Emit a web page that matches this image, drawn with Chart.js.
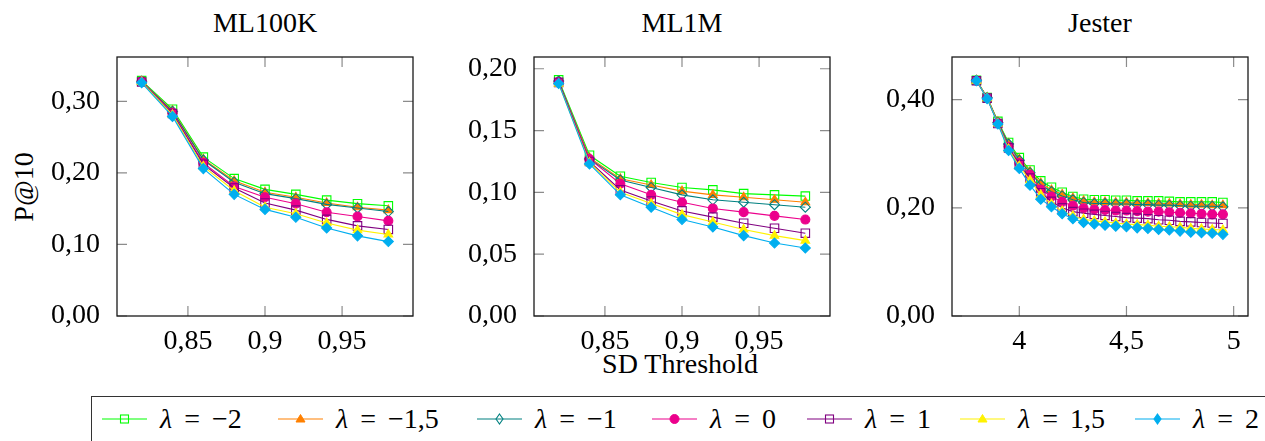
<!DOCTYPE html>
<html>
<head>
<meta charset="utf-8">
<script src="https://cdn.jsdelivr.net/npm/chart.js"></script>
<style>
  body {
    margin: 0;
    width: 1265px;
    height: 441px;
    overflow: hidden;
    position: relative;
    background: #ffffff;
    font-family: 'Liberation Serif', 'Times New Roman', 'DejaVu Serif', serif;
    color: #000;
  }
  canvas { position: absolute; top: 0; }
  .txt {
    position: absolute;
    font-size: 28px;
    line-height: 32px;
    white-space: nowrap;
    text-align: center;
  }
  .legend {
    position: absolute;
    left: 91px;
    top: 396px;
    width: 1250px;
    height: 80px;
    border: 1.3px solid #333;
  }
  .entry-line { position: absolute; top: 409px; }
  .entry-text { position: absolute; top: 403px; font-size: 28px; line-height: 32px; white-space: nowrap; }
  .eq { margin: 0 12px; }
</style>
</head>
<body>

<!-- titles and axis labels -->
<div class="txt" style="left:165px; top:7px; width:200px;">ML100K</div>
<div class="txt" style="left:582px; top:7px; width:200px;">ML1M</div>
<div class="txt" style="left:1000px; top:7px; width:200px;">Jester</div>
<div class="txt" style="left:-36px; top:171px; width:120px; transform:rotate(-90deg);">P@10</div>
<div class="txt" style="left:530px; top:348px; width:300px;">SD Threshold</div>

<canvas id="c1" width="384" height="380" style="left:37px"></canvas>
<canvas id="c2" width="384" height="380" style="left:454px"></canvas>
<canvas id="c3" width="384" height="380" style="left:872px"></canvas>

<div class="legend"></div>
<div id="legendItems"></div>

<script>
// ---- data ----
const lambdas = ['−2', '−1,5', '−1', '0', '1', '1,5', '2'];
const colors = ['#00ff00', '#ff8000', '#008080', '#ec008c', '#800080', '#fff200', '#00aeef'];
const markers = ['rect', 'triangle', 'rectRot', 'circle', 'rect', 'triangle', 'rectRot'];
const filled = [false, true, false, true, false, true, true];

const mlThresholds = [0.82, 0.84, 0.86, 0.88, 0.90, 0.92, 0.94, 0.96, 0.98];
const jesterThresholds = [3.8, 3.85, 3.9, 3.95, 4.0, 4.05, 4.1, 4.15, 4.2, 4.25, 4.3, 4.35,
  4.4, 4.45, 4.5, 4.55, 4.6, 4.65, 4.7, 4.75, 4.8, 4.85, 4.9, 4.95];

// ML100K
const ml100kM2  = [0.329, 0.289, 0.222, 0.192, 0.177, 0.170, 0.162, 0.157, 0.154];
const ml100kM15 = [0.328, 0.287, 0.219, 0.189, 0.173, 0.166, 0.158, 0.152, 0.148];
const ml100kM1  = [0.328, 0.286, 0.218, 0.187, 0.171, 0.164, 0.156, 0.151, 0.146];
const ml100k0   = [0.328, 0.284, 0.214, 0.181, 0.166, 0.157, 0.145, 0.139, 0.133];
const ml100k1   = [0.327, 0.283, 0.212, 0.179, 0.158, 0.148, 0.135, 0.126, 0.121];
const ml100k15  = [0.327, 0.281, 0.209, 0.175, 0.152, 0.143, 0.130, 0.120, 0.114];
const ml100k2   = [0.326, 0.279, 0.206, 0.170, 0.149, 0.138, 0.123, 0.112, 0.104];

// ML1M
const ml1mM2  = [0.191, 0.130, 0.113, 0.108, 0.104, 0.102, 0.099, 0.098, 0.097];
const ml1mM15 = [0.190, 0.128, 0.111, 0.106, 0.101, 0.098, 0.096, 0.094, 0.092];
const ml1mM1  = [0.190, 0.127, 0.110, 0.104, 0.098, 0.094, 0.092, 0.090, 0.088];
const ml1m0   = [0.189, 0.127, 0.107, 0.098, 0.092, 0.087, 0.084, 0.081, 0.078];
const ml1m1   = [0.189, 0.125, 0.102, 0.093, 0.085, 0.080, 0.075, 0.071, 0.067];
const ml1m15  = [0.188, 0.124, 0.100, 0.091, 0.082, 0.076, 0.070, 0.065, 0.061];
const ml1m2   = [0.188, 0.123, 0.098, 0.088, 0.078, 0.072, 0.065, 0.059, 0.055];

// Jester
const jesterM2  = [0.436, 0.404, 0.360, 0.321, 0.293, 0.270, 0.250, 0.238, 0.229, 0.221, 0.216, 0.215,
  0.215, 0.214, 0.214, 0.213, 0.213, 0.213, 0.212, 0.211, 0.211, 0.211, 0.211, 0.210];
const jesterM15 = [0.436, 0.404, 0.359, 0.319, 0.290, 0.267, 0.246, 0.233, 0.225, 0.218, 0.213, 0.211,
  0.211, 0.210, 0.210, 0.209, 0.209, 0.208, 0.208, 0.207, 0.206, 0.206, 0.205, 0.205];
const jesterM1  = [0.436, 0.404, 0.358, 0.318, 0.288, 0.265, 0.243, 0.230, 0.222, 0.215, 0.210, 0.208,
  0.208, 0.207, 0.207, 0.206, 0.206, 0.205, 0.205, 0.204, 0.203, 0.203, 0.203, 0.202];
const jester0   = [0.435, 0.403, 0.357, 0.313, 0.283, 0.261, 0.234, 0.221, 0.211, 0.204, 0.199, 0.197,
  0.196, 0.195, 0.195, 0.194, 0.193, 0.193, 0.192, 0.191, 0.190, 0.189, 0.188, 0.188];
const jester1   = [0.435, 0.403, 0.356, 0.311, 0.280, 0.255, 0.228, 0.212, 0.200, 0.193, 0.190, 0.188,
  0.186, 0.184, 0.182, 0.181, 0.180, 0.178, 0.177, 0.175, 0.174, 0.173, 0.172, 0.171];
const jester15  = [0.435, 0.403, 0.356, 0.309, 0.277, 0.251, 0.224, 0.207, 0.194, 0.185, 0.179, 0.176,
  0.174, 0.172, 0.170, 0.169, 0.168, 0.166, 0.165, 0.164, 0.162, 0.161, 0.160, 0.159];
const jester2   = [0.435, 0.402, 0.355, 0.306, 0.273, 0.242, 0.216, 0.202, 0.189, 0.180, 0.173, 0.170,
  0.168, 0.166, 0.165, 0.163, 0.162, 0.160, 0.159, 0.157, 0.155, 0.154, 0.153, 0.151];

// ticks
const mlXTicks = [0.85, 0.9, 0.95];
const jesterXTicks = [4, 4.5, 5];
const ml100kYTicks = [0, 0.1, 0.2, 0.3];
const ml1mYTicks = [0, 0.05, 0.1, 0.15, 0.2];
const jesterYTicks = [0, 0.2, 0.4];

const comma = v => String(v).replace('.', ',');
const comma2 = v => v.toFixed(2).replace('.', ',');

// frame + inward ticks on all four sides (pgfplots look)
const framePlugin = {
  id: 'frame',
  afterDraw(chart) {
    const { ctx, chartArea: a, scales } = chart;
    ctx.save();
    ctx.strokeStyle = '#8c8c8c';
    ctx.lineWidth = 1.2;
    ctx.beginPath();
    scales.x.ticks.forEach(t => {
      const px = scales.x.getPixelForValue(t.value);
      ctx.moveTo(px, a.bottom); ctx.lineTo(px, a.bottom - 10);
      ctx.moveTo(px, a.top); ctx.lineTo(px, a.top + 10);
    });
    scales.y.ticks.forEach(t => {
      const py = scales.y.getPixelForValue(t.value);
      ctx.moveTo(a.left, py); ctx.lineTo(a.left + 10, py);
      ctx.moveTo(a.right, py); ctx.lineTo(a.right - 10, py);
    });
    ctx.stroke();
    ctx.strokeStyle = '#1a1a1a';
    ctx.lineWidth = 1.3;
    ctx.strokeRect(a.left, a.top, a.right - a.left, a.bottom - a.top);
    ctx.restore();
  }
};

function makePanel(id, xs, series, xMin, xMax, xTicks, yMax, yTicks) {
  const datasets = series.map((vals, i) => ({
    label: 'λ = ' + lambdas[i],
    data: xs.map((x, j) => ({ x, y: vals[j] })),
    borderColor: colors[i],
    backgroundColor: filled[i] ? colors[i] : 'rgba(255,255,255,0)',
    pointBorderColor: colors[i],
    pointBackgroundColor: filled[i] ? colors[i] : 'rgba(255,255,255,0)',
    borderWidth: 1.1,
    pointBorderWidth: 1.1,
    pointStyle: markers[i],
    pointRadius: markers[i] === 'rect' ? 6 : markers[i] === 'triangle' ? 5 : markers[i] === 'circle' ? 4.5 : 5,
    tension: 0,
    order: series.length - i
  }));

  const font = { family: "'Liberation Serif', 'Times New Roman', 'DejaVu Serif', serif", size: 28 };

  new Chart(document.getElementById(id), {
    type: 'line',
    data: { datasets },
    options: {
      responsive: false,
      animation: false,
      layout: { padding: { top: 57, bottom: 14, left: 0, right: 8 } },
      plugins: { legend: { display: false }, tooltip: { enabled: false } },
      scales: {
        x: {
          type: 'linear',
          min: xMin,
          max: xMax,
          afterBuildTicks: s => { s.ticks = xTicks.map(v => ({ value: v })); },
          afterFit: s => { s.height = 50; },
          grid: { display: false, drawTicks: false },
          border: { display: false },
          ticks: { font, color: '#000', padding: 9, maxRotation: 0, callback: v => comma(v) }
        },
        y: {
          min: 0,
          max: yMax,
          afterBuildTicks: s => { s.ticks = yTicks.map(v => ({ value: v })); },
          afterFit: s => { s.width = 80; },
          grid: { display: false, drawTicks: false },
          border: { display: false },
          ticks: { font, color: '#000', padding: 17, callback: v => comma2(v) }
        }
      }
    },
    plugins: [framePlugin]
  });
}

makePanel('c1', mlThresholds,
  [ml100kM2, ml100kM15, ml100kM1, ml100k0, ml100k1, ml100k15, ml100k2],
  0.804, 0.996, mlXTicks, 0.362, ml100kYTicks);

makePanel('c2', mlThresholds,
  [ml1mM2, ml1mM15, ml1mM1, ml1m0, ml1m1, ml1m15, ml1m2],
  0.804, 0.996, mlXTicks, 0.2095, ml1mYTicks);

makePanel('c3', jesterThresholds,
  [jesterM2, jesterM15, jesterM1, jester0, jester1, jester15, jester2],
  3.686, 5.067, jesterXTicks, 0.479, jesterYTicks);

// legend (html, one svg marker per entry)
const legendX = [102, 278, 477, 652, 807, 960, 1135];
function markerSvg(i) {
  const c = colors[i];
  const f = filled[i] ? c : 'none';
  let m;
  if (markers[i] === 'rect') m = `<rect x="18.5" y="6" width="8" height="8" fill="${f}" stroke="${c}" stroke-width="1.1"/>`;
  else if (markers[i] === 'triangle') m = `<polygon points="22.5,5.5 27,13 18,13" fill="${f}" stroke="${c}" stroke-width="1"/>`;
  else if (markers[i] === 'circle') m = `<circle cx="22.5" cy="10" r="4.5" fill="${f}" stroke="${c}"/>`;
  else m = `<polygon points="22.5,5 26,10 22.5,15 19,10" fill="${f}" stroke="${c}" stroke-width="1.1"/>`;
  return `<svg width="45" height="20"><line x1="0" y1="10" x2="45" y2="10" stroke="${c}" stroke-width="1.1"/>${m}</svg>`;
}
const legendBox = document.getElementById('legendItems');
lambdas.forEach((lam, i) => {
  const line = document.createElement('div');
  line.className = 'entry-line';
  line.style.left = legendX[i] + 'px';
  line.innerHTML = markerSvg(i);
  legendBox.appendChild(line);

  const txt = document.createElement('div');
  txt.className = 'entry-text';
  txt.style.left = (legendX[i] + 58) + 'px';
  txt.innerHTML = '<i>λ</i><span class="eq">=</span>' + lam;
  legendBox.appendChild(txt);
});
</script>
</body>
</html>
